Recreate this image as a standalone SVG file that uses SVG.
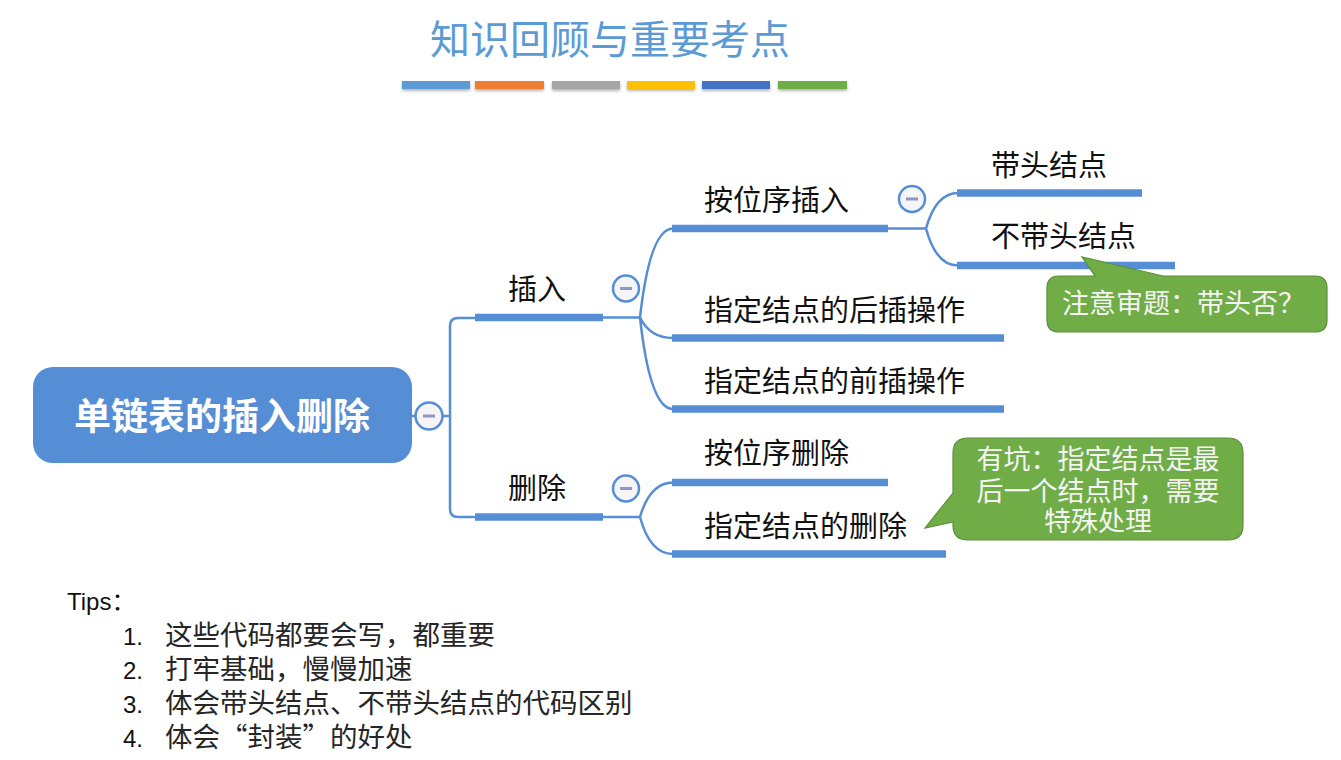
<svg xmlns="http://www.w3.org/2000/svg" width="1341" height="760" viewBox="0 0 1341 760">
<defs>
<filter id="sh" x="-10%" y="-50%" width="120%" height="250%">
<feDropShadow dx="0" dy="2" stdDeviation="1.5" flood-color="#000" flood-opacity="0.3"/>
</filter>
<style>
.cj{font-family:"Noto Sans CJK SC","Noto Sans",sans-serif;}
.br{font-size:29px;fill:#111;}
.bar{stroke:#558ED5;stroke-width:7.5;fill:none;}
.thin{stroke:#558ED5;stroke-width:2.5;fill:none;}
.col circle{fill:#F5F5F7;stroke:#558ED5;stroke-width:2.5;}
.col line{stroke:#8E96C8;stroke-width:3;}
.co{fill:#70AD47;stroke:#5A8F38;stroke-width:1.2;}
.cot{font-size:27px;fill:#F4F4F4;}
.tip{font-size:27.5px;fill:#262626;}
.num{font-family:"Liberation Sans",Arial,sans-serif;font-size:24px;fill:#111;}
</style>
</defs>
<rect width="1341" height="760" fill="#fff"/>

<g id="title">
<text class="cj" x="610" y="54" text-anchor="middle" font-size="40" fill="#5B9BD5">知识回顾与重要考点</text>
<g filter="url(#sh)">
<rect x="402" y="81" width="68" height="8" fill="#5B9BD5"/>
<rect x="475" y="81" width="69" height="8" fill="#ED7D31"/>
<rect x="552" y="81" width="68" height="8" fill="#A5A5A5"/>
<rect x="627" y="81" width="68" height="8" fill="#FFC000"/>
<rect x="702" y="81" width="68" height="8" fill="#4472C4"/>
<rect x="778" y="81" width="69" height="8" fill="#70AD47"/>
</g>
</g>

<g id="connectors">
<line class="thin" x1="412" y1="416" x2="449" y2="416"/>
<path class="thin" d="M476,318 H458 Q450,318 450,326 V509 Q450,517 458,517 H476"/>
<line class="thin" x1="600" y1="317.5" x2="640" y2="317.5"/>
<path class="thin" d="M640,317.5 Q650,228.5 673,228.5"/>
<path class="thin" d="M640,317.5 Q650,338 673,338"/>
<path class="thin" d="M640,317.5 Q650,409 673,409"/>
<line class="thin" x1="885" y1="228.5" x2="926" y2="228.5"/>
<path class="thin" d="M926,228.5 Q936,193 958,193"/>
<path class="thin" d="M926,228.5 Q936,265.5 958,265.5"/>
<line class="thin" x1="600" y1="517" x2="640" y2="517"/>
<path class="thin" d="M640,517 Q650,482.5 673,482.5"/>
<path class="thin" d="M640,517 Q650,554 673,554"/>
</g>

<g id="root">
<rect x="33" y="367" width="379" height="96" rx="20" fill="#558ED5"/>
<text class="cj" x="222" y="430" text-anchor="middle" font-size="37" font-weight="bold" fill="#fff">单链表的插入删除</text>
<g class="col"><circle cx="429" cy="416" r="13.5"/><line x1="423" y1="416" x2="435" y2="416"/></g>
</g>

<g id="insert">
<line class="bar" x1="475" y1="317.5" x2="603" y2="317.5" stroke-width="8"/>
<text class="cj br" x="508" y="300">插入</text>
<g class="col"><circle cx="626" cy="288.5" r="13"/><line x1="620" y1="288.5" x2="632" y2="288.5"/></g>
</g>

<g id="insert-pos">
<line class="bar" x1="672" y1="228.5" x2="888" y2="228.5"/>
<text class="cj br" x="704" y="211">按位序插入</text>
<g class="col"><circle cx="912" cy="199" r="13"/><line x1="906" y1="199" x2="918" y2="199"/></g>
</g>

<g id="with-head">
<line class="bar" x1="957" y1="193" x2="1142" y2="193"/>
<text class="cj br" x="991" y="176">带头结点</text>
</g>

<g id="without-head">
<line class="bar" x1="957" y1="265.5" x2="1175" y2="265.5"/>
<text class="cj br" x="991" y="247">不带头结点</text>
</g>

<g id="insert-after">
<line class="bar" x1="672" y1="338" x2="1004" y2="338"/>
<text class="cj br" x="704" y="321">指定结点的后插操作</text>
</g>

<g id="insert-before">
<line class="bar" x1="672" y1="409" x2="1004" y2="409"/>
<text class="cj br" x="704" y="392">指定结点的前插操作</text>
</g>

<g id="delete">
<line class="bar" x1="475" y1="517" x2="603" y2="517" stroke-width="8"/>
<text class="cj br" x="508" y="499">删除</text>
<g class="col"><circle cx="626" cy="488.5" r="13"/><line x1="620" y1="488.5" x2="632" y2="488.5"/></g>
</g>

<g id="delete-pos">
<line class="bar" x1="672" y1="482.5" x2="888" y2="482.5"/>
<text class="cj br" x="704" y="464">按位序删除</text>
</g>

<g id="delete-node">
<line class="bar" x1="672" y1="554" x2="946" y2="554"/>
<text class="cj br" x="704" y="537">指定结点的删除</text>
</g>

<g id="callout1">
<path class="co" d="M1059,276 H1095 L1082,257 L1163,276 H1315 Q1327,276 1327,288 V320 Q1327,332 1315,332 H1059 Q1047,332 1047,320 V288 Q1047,276 1059,276 Z"/>
<text class="cj cot" x="1062" y="313">注意审题：带头否？</text>
</g>

<g id="callout2">
<path class="co" d="M968,438 H1228 Q1243,438 1243,453 V525 Q1243,540 1228,540 H968 Q953,540 953,525 V522 L925,528 L953,493 V453 Q953,438 968,438 Z"/>
<text class="cj cot" x="1098" y="469" text-anchor="middle">有坑：指定结点是最</text>
<text class="cj cot" x="1098" y="501" text-anchor="middle">后一个结点时，需要</text>
<text class="cj cot" x="1098" y="531" text-anchor="middle">特殊处理</text>
</g>

<g id="tips">
<text x="67" y="610"><tspan class="num">Tips</tspan><tspan class="cj" font-size="24" fill="#111">：</tspan></text>
<text class="num" x="123" y="645">1.</text>
<text class="cj tip" x="165" y="645">这些代码都要会写，都重要</text>
<text class="num" x="123" y="679">2.</text>
<text class="cj tip" x="165" y="679">打牢基础，慢慢加速</text>
<text class="num" x="123" y="713">3.</text>
<text class="cj tip" x="165" y="713">体会带头结点、不带头结点的代码区别</text>
<text class="num" x="123" y="747">4.</text>
<text class="cj tip" x="165" y="747">体会“封装”的好处</text>
</g>
</svg>
